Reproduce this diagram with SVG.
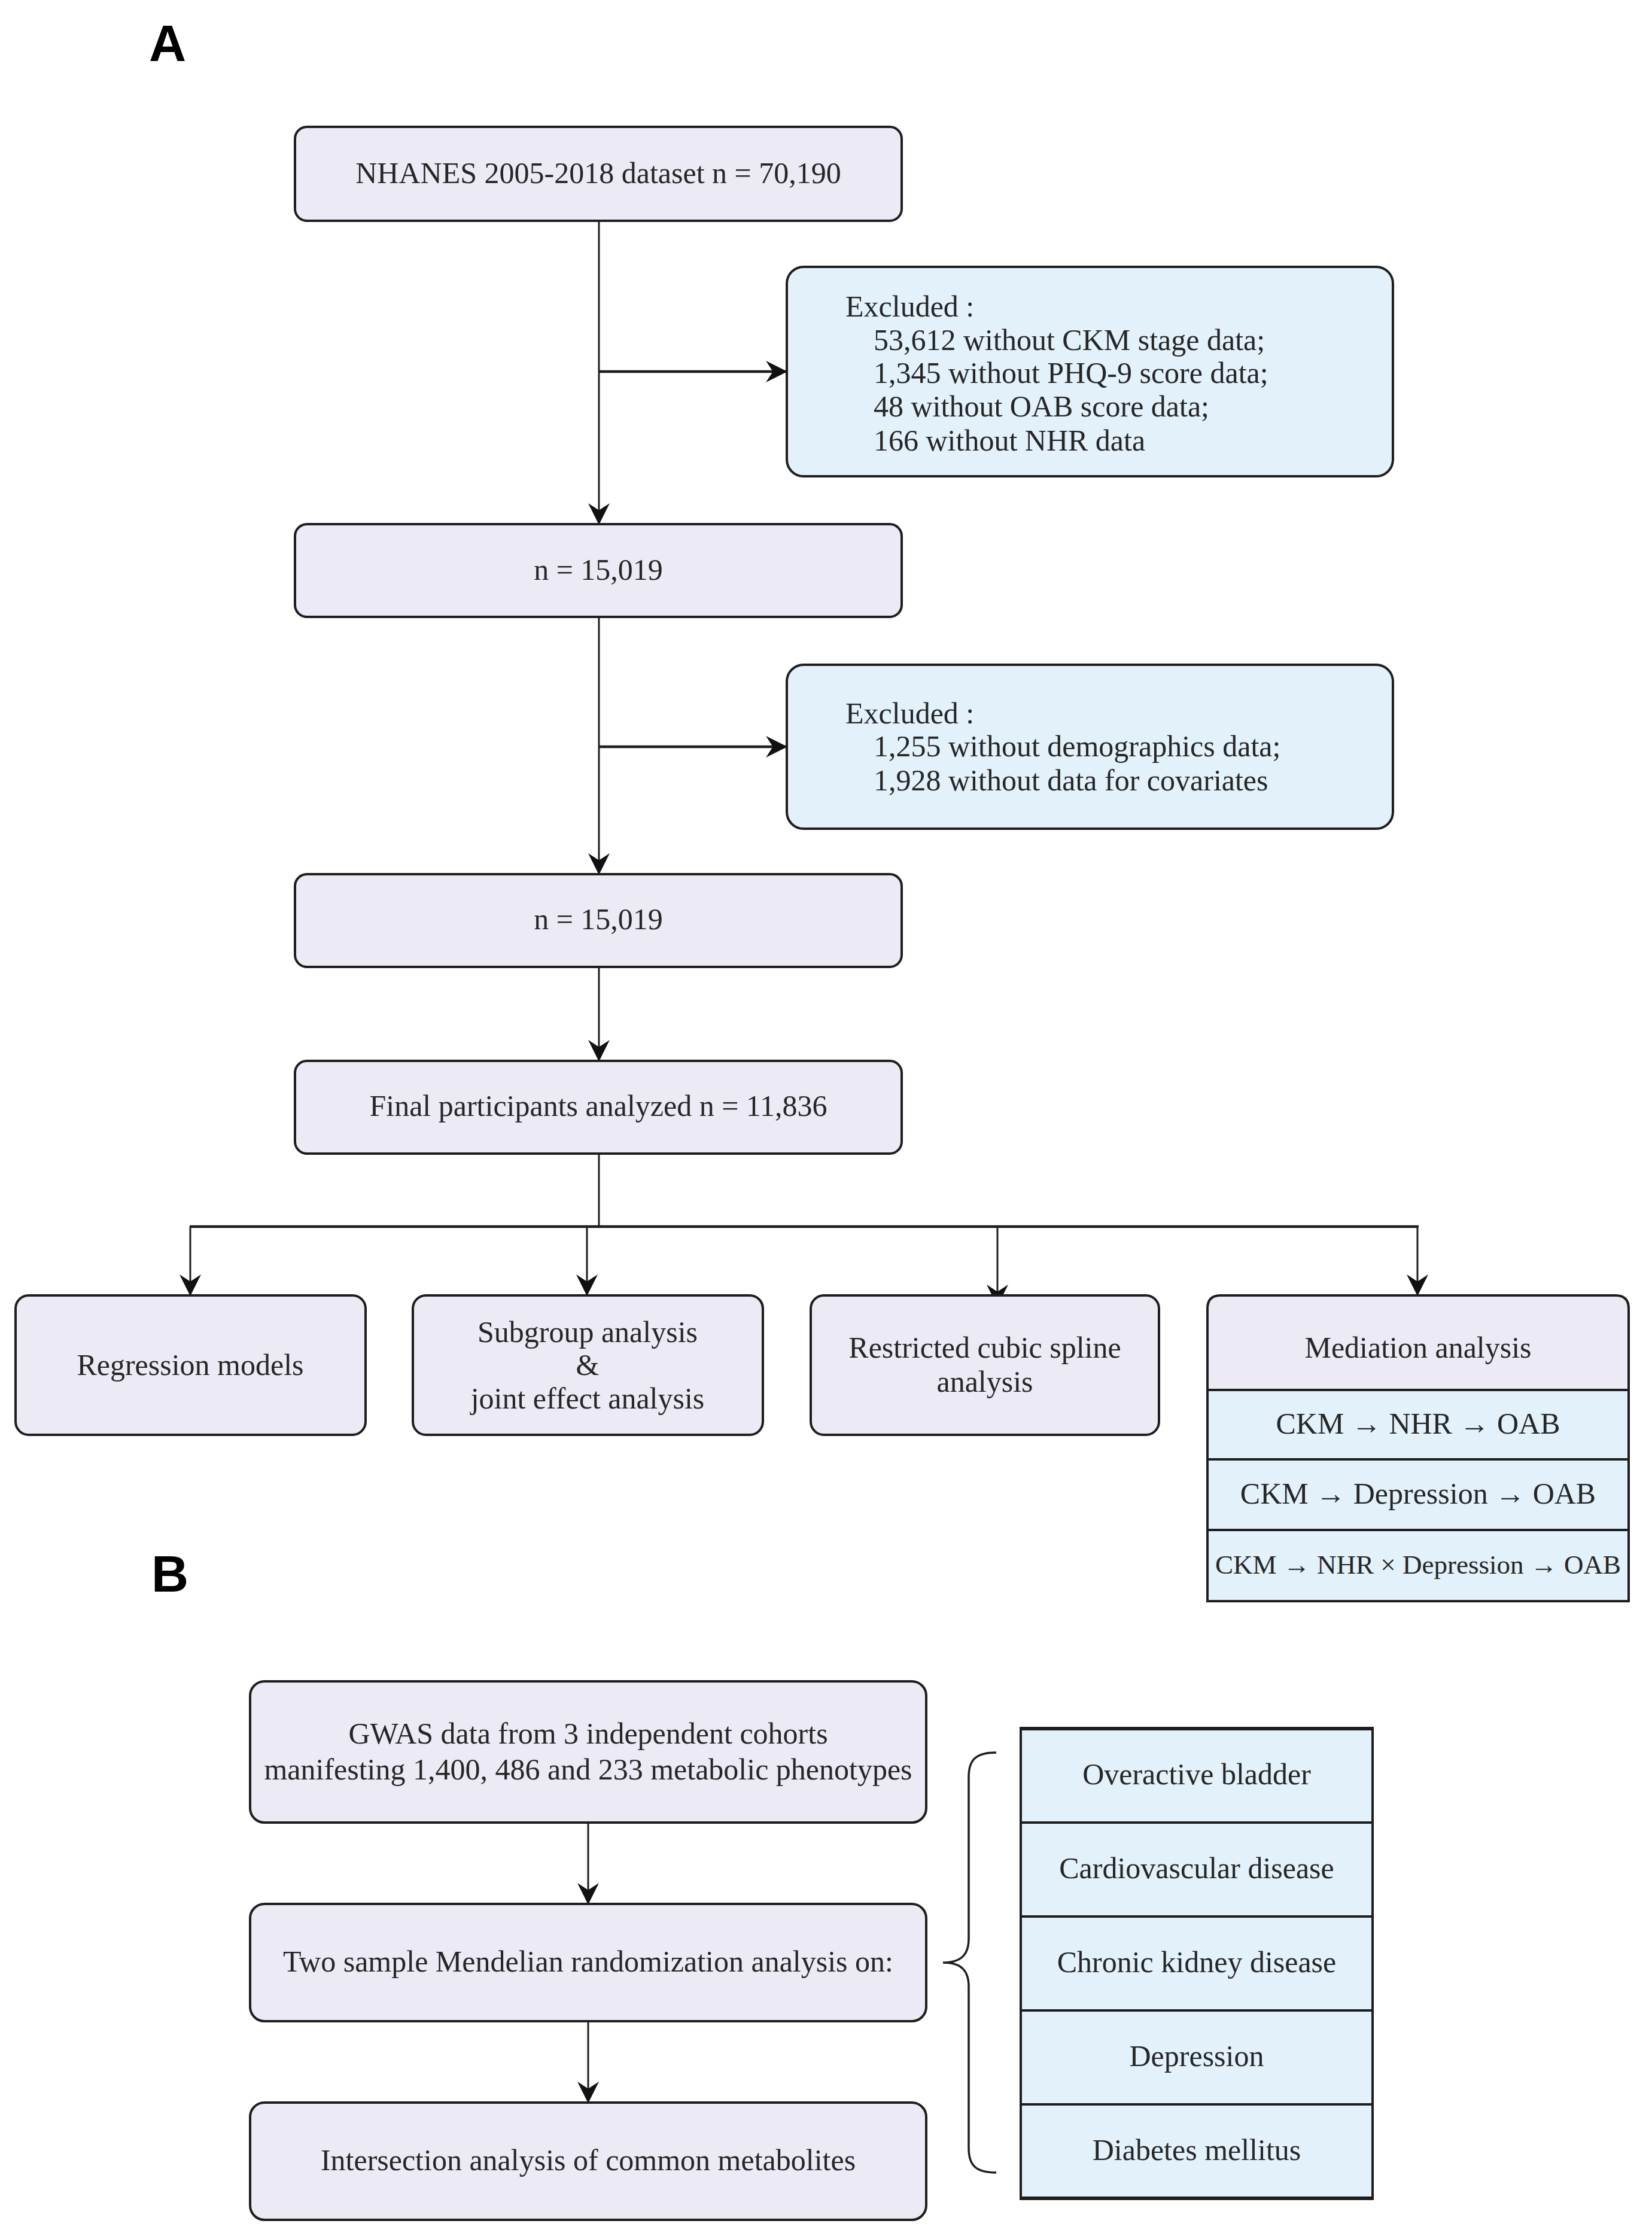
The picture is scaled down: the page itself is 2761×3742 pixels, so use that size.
<svg xmlns="http://www.w3.org/2000/svg" width="2761" height="3742" viewBox="0 0 2761 3742">
<style>
.bg{fill:#ffffff}
.lav{fill:#ECEAF5;stroke:#1e1e1e;stroke-width:4}
.blu{fill:#E2F1FA;stroke:#1e1e1e;stroke-width:4}
.t{font-family:"Liberation Serif","Times New Roman",serif;font-size:50px;fill:#262626}
.c{text-anchor:middle}
.lbl{font-family:"Liberation Sans",Arial,sans-serif;font-weight:bold;font-size:86px;fill:#000}
.ln{fill:none;stroke:#1e1e1e;stroke-width:3}
.lnh{fill:none;stroke:#1e1e1e;stroke-width:4.5}
.brace{fill:none;stroke:#1e1e1e;stroke-width:3.5}
</style>
<defs>
<marker id="ah" markerUnits="userSpaceOnUse" markerWidth="36" markerHeight="36" viewBox="0 0 34 34" refX="33" refY="17" orient="auto">
<path d="M0,0 L34,17 L0,34 L11,17 z" fill="#111"/>
</marker>
</defs>
<rect class="bg" x="0" y="0" width="2761" height="3742"/>

<text class="lbl" x="249" y="102">A</text>
<text class="lbl" x="253" y="2660">B</text>

<g id="connectors">
<line class="ln" x1="1001" y1="369" x2="1001" y2="876" marker-end="url(#ah)"/>
<line class="lnh" x1="1001" y1="621" x2="1315" y2="621" marker-end="url(#ah)"/>
<line class="ln" x1="1001" y1="1031" x2="1001" y2="1461" marker-end="url(#ah)"/>
<line class="lnh" x1="1001" y1="1248" x2="1315" y2="1248" marker-end="url(#ah)"/>
<line class="ln" x1="1001" y1="1616" x2="1001" y2="1773" marker-end="url(#ah)"/>
<line class="ln" x1="1001" y1="1928" x2="1001" y2="2050"/>
<line class="lnh" x1="317" y1="2050" x2="2371" y2="2050"/>
<line class="ln" x1="318" y1="2050" x2="318" y2="2165" marker-end="url(#ah)"/>
<line class="ln" x1="981" y1="2050" x2="981" y2="2165" marker-end="url(#ah)"/>
<line class="ln" x1="1667" y1="2050" x2="1667" y2="2182" marker-end="url(#ah)"/>
<line class="ln" x1="2369" y1="2050" x2="2369" y2="2165" marker-end="url(#ah)"/>
<line class="ln" x1="983" y1="3046" x2="983" y2="3182" marker-end="url(#ah)"/>
<line class="ln" x1="983" y1="3378" x2="983" y2="3514" marker-end="url(#ah)"/>
<path class="brace" d="M1665,2929 C1632,2929 1619,2940 1619,2970 L1619,3240 C1619,3268 1605,3280 1576,3280 C1605,3280 1619,3292 1619,3320 L1619,3590 C1619,3620 1632,3631 1665,3631"/>
</g>

<g id="n1">
<rect class="lav" x="493" y="212" width="1014" height="157" rx="20"/>
<text class="t c" x="1000" y="306">NHANES 2005-2018 dataset n = 70,190</text>
</g>
<g id="ex1">
<rect class="blu" x="1315" y="446" width="1013" height="350" rx="28"/>
<text class="t" x="1413" y="529">Excluded :</text>
<text class="t" x="1460" y="585">53,612 without CKM stage data;</text>
<text class="t" x="1460" y="640">1,345 without PHQ-9 score data;</text>
<text class="t" x="1460" y="696">48 without OAB score data;</text>
<text class="t" x="1460" y="753">166 without NHR data</text>
</g>
<g id="n2">
<rect class="lav" x="493" y="876" width="1014" height="155" rx="20"/>
<text class="t c" x="1000" y="969">n = 15,019</text>
</g>
<g id="ex2">
<rect class="blu" x="1315" y="1111" width="1013" height="274" rx="28"/>
<text class="t" x="1413" y="1209">Excluded :</text>
<text class="t" x="1460" y="1264">1,255 without demographics data;</text>
<text class="t" x="1460" y="1321">1,928 without data for covariates</text>
</g>
<g id="n3">
<rect class="lav" x="493" y="1461" width="1014" height="155" rx="20"/>
<text class="t c" x="1000" y="1553">n = 15,019</text>
</g>
<g id="n4">
<rect class="lav" x="493" y="1773" width="1014" height="155" rx="20"/>
<text class="t c" x="1000" y="1865">Final participants analyzed n = 11,836</text>
</g>

<g id="reg">
<rect class="lav" x="26" y="2165" width="585" height="233" rx="22"/>
<text class="t c" x="318" y="2298">Regression models</text>
</g>
<g id="sub">
<rect class="lav" x="690" y="2165" width="585" height="233" rx="22"/>
<text class="t c" x="982" y="2243">Subgroup analysis</text>
<text class="t c" x="982" y="2298">&amp;</text>
<text class="t c" x="982" y="2354">joint effect analysis</text>
</g>
<g id="rcs">
<rect class="lav" x="1355" y="2165" width="582" height="233" rx="22"/>
<text class="t c" x="1646" y="2269">Restricted cubic spline</text>
<text class="t c" x="1646" y="2326">analysis</text>
</g>
<g id="med">
<path class="lav" d="M2018,2323 L2018,2187 Q2018,2165 2040,2165 L2700,2165 Q2722,2165 2722,2187 L2722,2323 Z"/>
<text class="t c" x="2370" y="2269">Mediation analysis</text>
<rect class="blu" x="2018" y="2323" width="704" height="116"/>
<text class="t c" x="2370" y="2396">CKM → NHR → OAB</text>
<rect class="blu" x="2018" y="2439" width="704" height="118"/>
<text class="t c" x="2370" y="2513">CKM → Depression → OAB</text>
<rect class="blu" x="2018" y="2557" width="704" height="119"/>
<text class="t c" x="2370" y="2630" style="font-size:45px">CKM → NHR × Depression → OAB</text>
</g>

<g id="gwas">
<rect class="lav" x="418" y="2810" width="1130" height="236" rx="24"/>
<text class="t c" x="983" y="2914">GWAS data from 3 independent cohorts</text>
<text class="t c" x="983" y="2974">manifesting 1,400, 486 and 233 metabolic phenotypes</text>
</g>
<g id="mr">
<rect class="lav" x="418" y="3182" width="1130" height="196" rx="24"/>
<text class="t c" x="983" y="3295">Two sample Mendelian randomization analysis on:</text>
</g>
<g id="inter">
<rect class="lav" x="418" y="3514" width="1130" height="196" rx="24"/>
<text class="t c" x="983" y="3627">Intersection analysis of common metabolites</text>
</g>
<g id="table">
<rect class="blu" x="1706" y="2889" width="588" height="157"/>
<text class="t c" x="2000" y="2982">Overactive bladder</text>
<rect class="blu" x="1706" y="3046" width="588" height="157"/>
<text class="t c" x="2000" y="3139">Cardiovascular disease</text>
<rect class="blu" x="1706" y="3203" width="588" height="157"/>
<text class="t c" x="2000" y="3296">Chronic kidney disease</text>
<rect class="blu" x="1706" y="3360" width="588" height="157"/>
<text class="t c" x="2000" y="3453">Depression</text>
<rect class="blu" x="1706" y="3517" width="588" height="157"/>
<text class="t c" x="2000" y="3610">Diabetes mellitus</text>
<line x1="1704" y1="2889" x2="2296" y2="2889" stroke="#1e1e1e" stroke-width="6"/>
<line x1="1704" y1="3674" x2="2296" y2="3674" stroke="#1e1e1e" stroke-width="6"/>
</g>
</svg>
